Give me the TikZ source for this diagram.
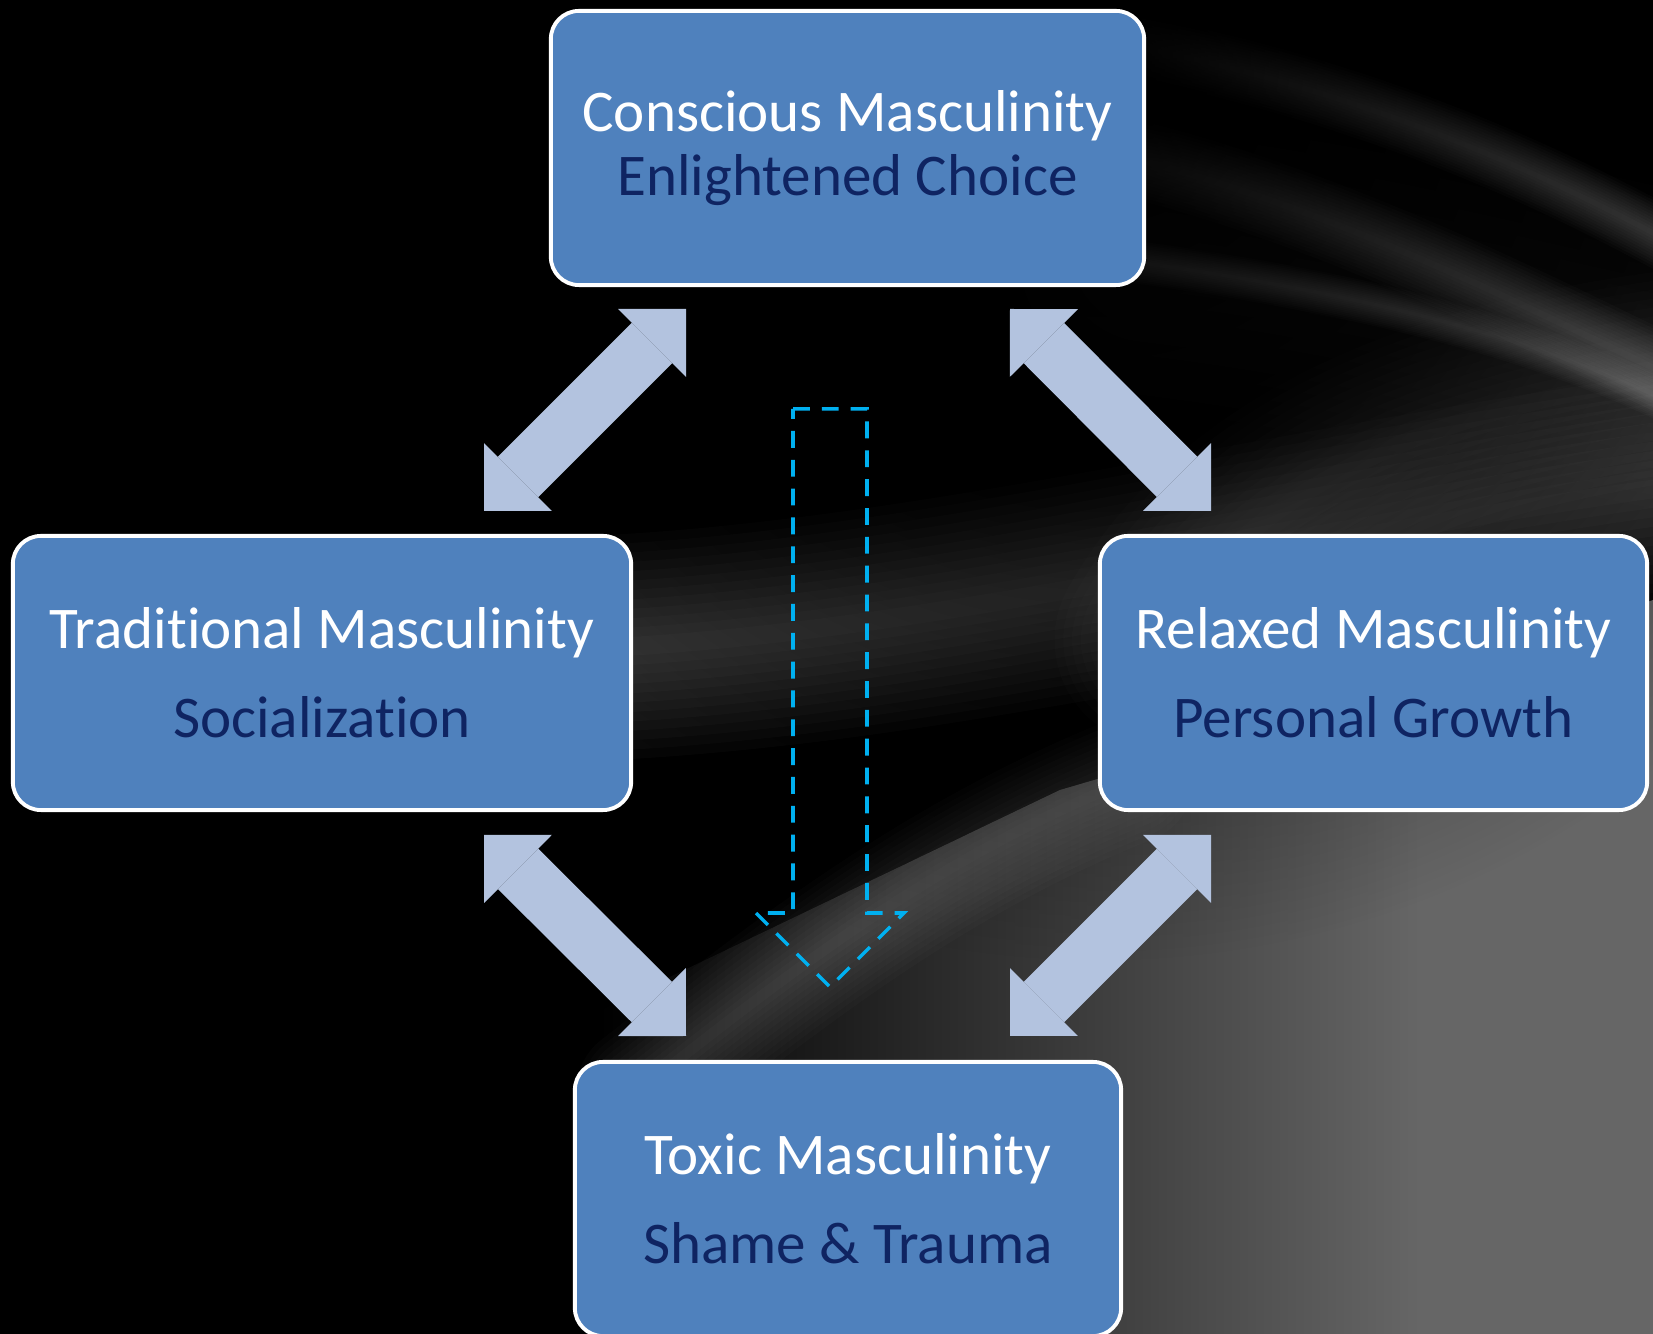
\documentclass[tikz,border=0pt]{standalone}
\usepackage{fontspec}
\setmainfont{Carlito}[Ligatures=NoCommon]
\usetikzlibrary{arrows.meta,fadings}
\definecolor{boxblue}{HTML}{4F81BD}
\definecolor{navyline}{HTML}{0F2462}
\definecolor{linkblue}{HTML}{B3C3DF}
\definecolor{flowcyan}{HTML}{00B0F0}
\definecolor{bggray}{HTML}{666666}
\tikzfading[name=glowfade, inner color=transparent!0, outer color=transparent!100]

\tikzset{
  stage/.style={draw=white, line width=1.1pt, fill=boxblue, rounded corners=8pt,
    minimum height=2.74cm, inner sep=0pt, align=center, text=white,
    font=\fontsize{16.8}{18.2}\selectfont},
  link/.style={linkblue, line width=0.57cm,
    {Triangle[length=0.48cm,width=0.96cm,line width=0pt]}-{Triangle[length=0.48cm,width=0.96cm,line width=0pt]}},
  flowdash/.style={draw=flowcyan, line width=1pt, dash pattern=on 4.8pt off 3.4pt},
}
% soft light streak: max width (pt), layer opacity, path
\newcommand{\streak}[3]{%
  \foreach \k in {1,...,12}{%
    \pgfmathsetmacro\lw{#1*\k/12}%
    \draw[white, opacity=#2, line width=\lw pt, line cap=round] #3;}}

\begin{document}
\begin{tikzpicture}[x=0.01cm, y=-0.01cm]
  \useasboundingbox (0,0) rectangle (1653,1334);
  % background
  \fill[black] (0,0) rectangle (1653,1334);
  \begin{scope}
    \clip (580,1334) -- (580,1020) -- (1060,790) -- (1300,720) -- (1653,600) -- (1653,1334) -- cycle;
    \shade[left color=black, right color=bggray] (600,600) rectangle (1420,1334);
    \fill[bggray] (1420,600) rectangle (1653,1334);
  \end{scope}
  \streak{36}{0.015}{(640,1090) .. controls (780,980) and (930,860) .. (1130,780)}
  \streak{64}{0.022}{(450,650) .. controls (850,660) and (1250,540) .. (1720,480)}
  \streak{60}{0.016}{(1160,640) .. controls (1250,480) and (1450,400) .. (1720,370)}
  \streak{90}{0.008}{(1150,250) .. controls (1400,280) and (1550,330) .. (1720,360)}
  \streak{18}{0.03}{(1100,40) .. controls (1380,90) and (1580,190) .. (1720,270)}
  \streak{22}{0.03}{(1100,150) .. controls (1350,210) and (1550,320) .. (1720,400)}
  \streak{12}{0.032}{(1120,260) .. controls (1420,300) and (1600,360) .. (1720,430)}
  \fill[black, path fading=glowfade] (1100,60) circle (900);

  % stages
  \node[stage, minimum width=5.93cm] (conscious) at (847.5,148)
    {Conscious Masculinity\\ \textcolor{navyline}{Enlightened Choice}};
  \node[stage, minimum width=6.18cm] (traditional) at (322,673)
    {Traditional Masculinity\\[7pt] \textcolor{navyline}{Socialization}};
  \node[stage, minimum width=5.47cm] (relaxed) at (1373.5,673)
    {Relaxed Masculinity\\[7pt] \textcolor{navyline}{Personal Growth}};
  \node[stage, minimum width=5.46cm] (toxic) at (848,1199)
    {Toxic Masculinity\\[7pt] \textcolor{navyline}{Shame \& Trauma}};

  % links between stages
  \coordinate (ct) at (686,309);
  \coordinate (tc) at (484,511);
  \coordinate (cr) at (1010,309);
  \coordinate (rc) at (1211,511);
  \coordinate (tx) at (686,1036);
  \coordinate (xt) at (484,835);
  \coordinate (rx) at (1010,1036);
  \coordinate (xr) at (1211,835);
  \draw[link] (ct) -- (tc);
  \draw[link] (cr) -- (rc);
  \draw[link] (xt) -- (tx);
  \draw[link] (xr) -- (rx);

  % downward drift
  \draw[flowdash] (793,409) -- (867,409) -- (867,913) -- (904,913) -- (830,987)
    -- (756,913) -- (793,913) -- cycle;
\end{tikzpicture}
\end{document}
